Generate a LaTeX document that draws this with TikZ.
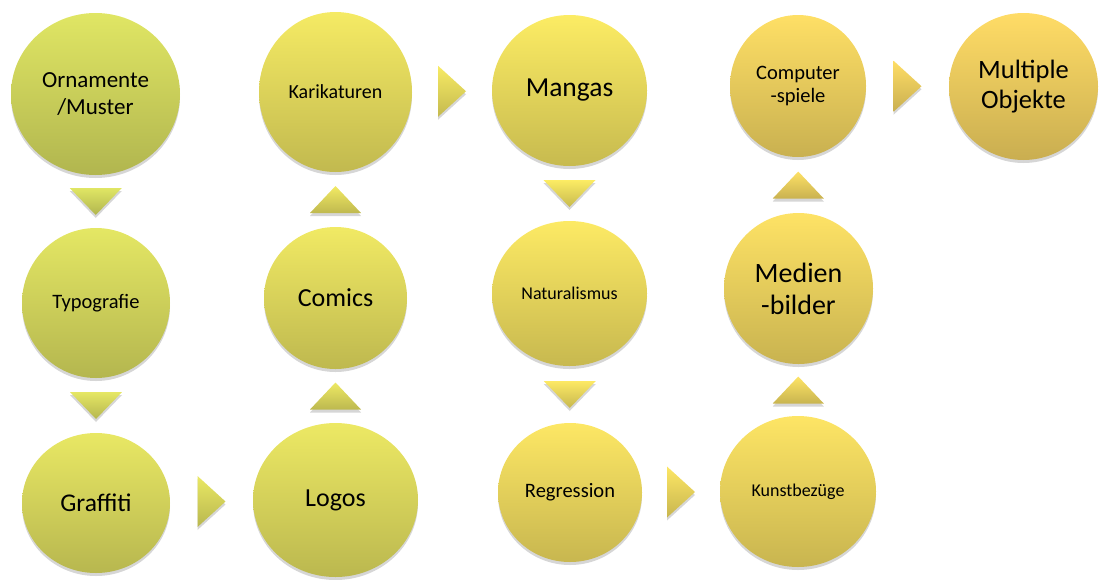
\documentclass[tikz,border=0pt]{standalone}
\usepackage{fontspec}
\setmainfont{Carlito}
\usetikzlibrary{shapes.geometric,shadows,calc}
\definecolor{cA}{RGB}{224,230,100}
\definecolor{cB}{RGB}{252,236,100}
\definecolor{cC}{RGB}{255,220,102}
\tikzset{
  shadowed/.style={drop shadow={shadow xshift=0pt, shadow yshift=-3pt, opacity=0.16, fill=black}},
  bub/.style={ellipse, inner sep=0pt, align=center, text=black,
    top color=#1, middle color=#1!95!black, bottom color=#1!79!black, shadowed},
  tri/.style={top color=#1, bottom color=#1!79!black, shadowed},
}
\begin{document}
\begin{tikzpicture}[x=1pt,y=-1pt]
\useasboundingbox (0,0) rectangle (1105,579);
% nodes
\node[bub=cA, minimum width=169pt, minimum height=162pt, font=\fontsize{23}{27}\selectfont] (orn) at (95.5,94) {Ornamente\\/Muster};
\node[bub=cA!85!cB, minimum width=148pt, minimum height=150pt, font=\fontsize{20.5}{25}\selectfont] (typ) at (96,303) {Typografie};
\node[bub=cA!70!cB, minimum width=148pt, minimum height=140pt, font=\fontsize{25.5}{30}\selectfont] (gra) at (96,503) {Graffiti};
\node[bub=cA!55!cB, minimum width=165pt, minimum height=154pt, font=\fontsize{26}{31}\selectfont] (log) at (335.5,500) {Logos};
\node[bub=cA!40!cB, minimum width=143pt, minimum height=142pt, font=\fontsize{26}{31}\selectfont] (com) at (335.5,298) {Comics};
\node[bub=cA!25!cB, minimum width=153pt, minimum height=160pt, font=\fontsize{20}{25}\selectfont] (kar) at (335.5,92) {Karikaturen};
\node[bub=cB, minimum width=155pt, minimum height=151pt, font=\fontsize{27.5}{33}\selectfont] (man) at (569.5,90.5) {Mangas};
\node[bub=cB!85!cC, minimum width=155pt, minimum height=145pt, font=\fontsize{18}{22}\selectfont] (nat) at (569.5,293.5) {Naturalismus};
\node[bub=cB!70!cC, minimum width=144pt, minimum height=139pt, font=\fontsize{20.5}{25}\selectfont] (reg) at (570,492.5) {Regression};
\node[bub=cB!55!cC, minimum width=156pt, minimum height=151pt, font=\fontsize{18}{22}\selectfont] (kun) at (798,491.5) {Kunstbezüge};
\node[bub=cB!40!cC, minimum width=149pt, minimum height=151pt, font=\fontsize{28}{32}\selectfont] (med) at (798.5,288.5) {Medien\\-bilder};
\node[bub=cB!20!cC, minimum width=136pt, minimum height=142pt, font=\fontsize{20.5}{23.5}\selectfont] (cmp) at (798,86) {Computer\\-spiele};
\node[bub=cC, minimum width=149pt, minimum height=147pt, font=\fontsize{26.5}{30}\selectfont] (mul) at (1023.5,86.5) {Multiple\\Objekte};
% connector positions
\coordinate (t1) at ($(orn.south)!0.5!(typ.north)$);
\coordinate (t2) at ($(typ.south)!0.5!(gra.north)$);
\coordinate (t3) at ($(gra.east)!0.5!(log.west)$);
\coordinate (t4) at ($(log.north)!0.5!(com.south)$);
\coordinate (t5) at ($(com.north)!0.5!(kar.south)$);
\coordinate (t6) at ($(kar.east)!0.5!(man.west)$);
\coordinate (t7) at ($(man.south)!0.5!(nat.north)$);
\coordinate (t8) at ($(nat.south)!0.5!(reg.north)$);
\coordinate (t9) at ($(reg.east)!0.5!(kun.west)$);
\coordinate (t10) at ($(kun.north)!0.5!(med.south)$);
\coordinate (t11) at ($(med.north)!0.5!(cmp.south)$);
\coordinate (t12) at ($(cmp.east)!0.5!(mul.west)$);
% down triangles
\path[tri=cA] ($(t1)+(-26,-13.5)$) -- ($(t1)+(26,-13.5)$) -- ($(t1)+(0,13.5)$) -- cycle;
\path[tri=cA!80!cB] ($(t2)+(-26,-13.5)$) -- ($(t2)+(26,-13.5)$) -- ($(t2)+(0,13.5)$) -- cycle;
\path[tri=cB] ($(t7)+(-26,-13.5)$) -- ($(t7)+(26,-13.5)$) -- ($(t7)+(0,13.5)$) -- cycle;
\path[tri=cB!80!cC] ($(t8)+(-26,-13.5)$) -- ($(t8)+(26,-13.5)$) -- ($(t8)+(0,13.5)$) -- cycle;
% right triangles
\path[tri=cA!65!cB] ($(t3)+(-14,-25.5)$) -- ($(t3)+(14,0)$) -- ($(t3)+(-14,25.5)$) -- cycle;
\path[tri=cA!15!cB] ($(t6)+(-14,-25.5)$) -- ($(t6)+(14,0)$) -- ($(t6)+(-14,25.5)$) -- cycle;
\path[tri=cB!65!cC] ($(t9)+(-14,-25.5)$) -- ($(t9)+(14,0)$) -- ($(t9)+(-14,25.5)$) -- cycle;
\path[tri=cB!10!cC] ($(t12)+(-14,-25.5)$) -- ($(t12)+(14,0)$) -- ($(t12)+(-14,25.5)$) -- cycle;
% up triangles
\path[tri=cA!50!cB] ($(t4)+(-25.5,13.5)$) -- ($(t4)+(25.5,13.5)$) -- ($(t4)+(0,-13.5)$) -- cycle;
\path[tri=cA!35!cB] ($(t5)+(-25.5,13.5)$) -- ($(t5)+(25.5,13.5)$) -- ($(t5)+(0,-13.5)$) -- cycle;
\path[tri=cB!50!cC] ($(t10)+(-25.5,13.5)$) -- ($(t10)+(25.5,13.5)$) -- ($(t10)+(0,-13.5)$) -- cycle;
\path[tri=cB!30!cC] ($(t11)+(-25.5,13.5)$) -- ($(t11)+(25.5,13.5)$) -- ($(t11)+(0,-13.5)$) -- cycle;
\end{tikzpicture}
\end{document}
